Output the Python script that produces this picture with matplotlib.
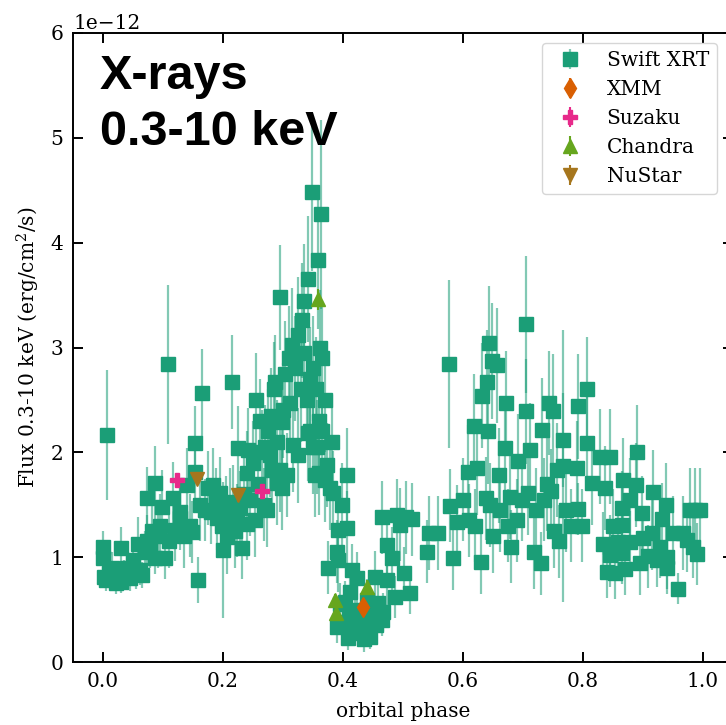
import numpy as np
import matplotlib
matplotlib.use("Agg")
import matplotlib.pyplot as plt

plt.rcParams['font.family'] = 'DejaVu Serif'
plt.rcParams['mathtext.fontset'] = 'dejavuserif'
plt.rcParams['font.size'] = 14.5

# Swift XRT (phase, flux in 1e-12 erg/cm2/s, error)
swift_phase = [
    0.000, 0.000, 0.002, 0.007, 0.005, 0.010, 0.015, 0.018, 0.022, 0.027,
    0.030, 0.030, 0.035, 0.040, 0.045, 0.050, 0.055, 0.058, 0.062, 0.065,
    0.070, 0.073, 0.073, 0.078, 0.082, 0.087, 0.087, 0.092, 0.095, 0.098,
    0.103, 0.108,
    0.110, 0.117, 0.120, 0.128, 0.128, 0.135, 0.140, 0.145, 0.148, 0.153,
    0.153, 0.158, 0.162, 0.165, 0.170, 0.175, 0.180, 0.183, 0.188, 0.190,
    0.195, 0.198,
    0.200, 0.205, 0.207, 0.212, 0.215, 0.217, 0.220, 0.223, 0.225, 0.228,
    0.232, 0.235, 0.240, 0.240, 0.242, 0.245, 0.250, 0.253, 0.255, 0.258,
    0.262, 0.265, 0.268, 0.270, 0.273, 0.275, 0.278, 0.280, 0.282, 0.285,
    0.287, 0.290, 0.290,
    0.295, 0.295, 0.298, 0.298, 0.300, 0.303, 0.307, 0.310, 0.312, 0.315,
    0.317, 0.320, 0.325, 0.325, 0.330, 0.332, 0.335, 0.335, 0.340, 0.342,
    0.342, 0.345, 0.345, 0.348, 0.350, 0.350, 0.353, 0.355, 0.357, 0.358,
    0.360, 0.360, 0.362, 0.363, 0.365, 0.365, 0.370, 0.370, 0.373, 0.375,
    0.378, 0.382, 0.383, 0.390, 0.390, 0.392, 0.392, 0.395, 0.398, 0.400,
    0.403, 0.407, 0.407, 0.408, 0.410, 0.412, 0.415, 0.415, 0.420, 0.423,
    0.425, 0.428, 0.430, 0.435, 0.440, 0.445, 0.450, 0.453, 0.455, 0.458,
    0.465, 0.465, 0.467, 0.473, 0.473, 0.482, 0.487, 0.490, 0.495,
    0.502, 0.505, 0.512, 0.515, 0.540, 0.543, 0.558, 0.577, 0.578, 0.583,
    0.590, 0.600,
    0.608, 0.610, 0.618, 0.620, 0.623, 0.630, 0.632, 0.638, 0.640, 0.642,
    0.643, 0.645, 0.648, 0.650, 0.657, 0.660, 0.662, 0.670, 0.672, 0.675,
    0.678, 0.680, 0.690, 0.692, 0.698,
    0.705, 0.705, 0.708, 0.712, 0.718, 0.722, 0.730, 0.732, 0.735, 0.740,
    0.743, 0.747, 0.750, 0.752, 0.757, 0.760, 0.767, 0.767, 0.772, 0.780,
    0.790, 0.792, 0.792, 0.798,
    0.807, 0.807, 0.815, 0.828, 0.833, 0.837, 0.840, 0.845, 0.845, 0.845,
    0.850, 0.853, 0.858, 0.865, 0.865, 0.865, 0.867, 0.870, 0.878, 0.878,
    0.888, 0.890, 0.895, 0.898, 0.900, 0.908, 0.915, 0.917, 0.923, 0.928,
    0.932, 0.938, 0.940, 0.940, 0.950, 0.958, 0.967, 0.973, 0.978, 0.983,
    0.987, 0.990, 0.995,
]
swift_flux = [
    1.10, 0.99, 0.81, 2.17, 0.78, 0.85, 0.90, 0.83, 0.75, 0.80,
    1.09, 0.76, 0.85, 0.90, 0.80, 0.97, 0.85, 1.13, 0.88, 0.83,
    1.05, 1.15, 1.56, 1.10, 1.25, 1.71, 0.99, 1.20, 1.30, 1.48,
    0.99, 2.84,
    1.15, 1.56, 1.26, 1.43, 1.37, 1.20, 1.69, 1.30, 1.24, 2.09,
    1.81, 0.78, 1.50, 2.57, 1.45, 1.66, 1.43, 1.69, 1.55, 1.37,
    1.61, 1.30,
    1.07, 1.42, 1.19, 1.50, 2.67, 1.53, 1.25, 1.35, 2.04, 1.47,
    1.09, 1.60, 1.80, 1.32, 2.02, 1.55, 1.90, 1.35, 2.50, 1.70,
    2.30, 2.00, 1.50, 2.05, 1.45, 2.20, 1.97, 2.35, 1.83, 2.60,
    2.67, 1.71, 2.10,
    3.48, 1.83, 2.29, 1.66, 2.40, 2.75, 1.78, 2.90, 2.47, 3.02,
    2.07, 2.80, 3.12, 1.97, 2.60, 3.26, 3.44, 2.95, 2.50, 3.65,
    2.18, 2.70, 2.20, 4.48, 2.80, 2.05, 1.78, 2.60, 2.05, 3.83,
    2.30, 1.80, 3.00, 4.27, 2.20, 2.90, 1.74, 2.50, 1.88, 0.90,
    1.66, 2.10, 1.61, 1.05, 0.33, 1.26, 0.97, 0.55, 1.50, 0.38,
    0.57, 1.78, 1.28, 0.23, 0.45, 0.67, 0.88, 0.30, 0.50, 0.80,
    0.38, 0.28, 0.35, 0.22, 0.59, 0.24, 0.45, 0.81, 0.35, 0.56,
    1.38, 0.40, 0.48, 0.78, 1.12, 0.99, 0.62, 1.40, 1.31,
    0.85, 1.38, 0.66, 1.36, 1.05, 1.23, 1.23, 2.84, 1.49, 0.99,
    1.34, 1.55,
    1.81, 1.35, 2.25, 1.30, 1.85, 0.95, 2.54, 1.56, 2.67, 2.20,
    3.04, 1.50, 2.87, 1.20, 2.83, 1.78, 1.45, 2.04, 2.47, 1.30,
    1.57, 1.10, 1.35, 1.92, 1.55,
    3.22, 2.39, 1.61, 2.02, 1.05, 1.45, 0.94, 2.21, 1.55, 1.70,
    2.47, 1.63, 2.39, 1.25, 1.83, 1.15, 2.12, 1.87, 1.45, 1.30,
    1.85, 2.44, 1.46, 1.30,
    2.60, 2.09, 1.71, 1.96, 1.13, 1.66, 0.86, 1.96, 1.10, 1.02,
    1.30, 0.85, 1.14, 1.47, 1.31, 1.04, 1.74, 0.89, 1.55, 1.14,
    1.69, 2.00, 0.94, 1.42, 1.18, 1.01, 1.23, 1.62, 0.97, 1.10,
    1.36, 1.50, 1.00, 0.90, 1.23, 0.70, 1.23, 1.16, 1.45, 1.10,
    1.45, 1.03, 1.45,
]
swift_err = [
    0.15, 0.12, 0.10, 0.62, 0.10, 0.12, 0.15, 0.12, 0.10, 0.12,
    0.20, 0.10, 0.12, 0.15, 0.12, 0.20, 0.15, 0.25, 0.15, 0.12,
    0.20, 0.25, 0.30, 0.20, 0.25, 0.35, 0.15, 0.30, 0.30, 0.35,
    0.20, 0.76,
    0.25, 0.35, 0.30, 0.30, 0.30, 0.30, 0.35, 0.30, 0.30, 0.35,
    0.35, 0.22, 0.35, 0.42, 0.30, 0.35, 0.30, 0.35, 0.30, 0.30,
    0.35, 0.30,
    0.65, 0.35, 0.35, 0.35, 0.45, 0.35, 0.35, 0.35, 0.40, 0.35,
    0.30, 0.35, 0.40, 0.35, 0.40, 0.35, 0.40, 0.35, 0.45, 0.35,
    0.40, 0.40, 0.35, 0.40, 0.35, 0.40, 0.40, 0.45, 0.40, 0.45,
    0.45, 0.40, 0.40,
    0.50, 0.40, 0.45, 0.40, 0.45, 0.50, 0.40, 0.50, 0.45, 0.55,
    0.45, 0.50, 0.55, 0.45, 0.50, 0.55, 0.55, 0.50, 0.45, 0.60,
    0.45, 0.50, 0.45, 0.75, 0.50, 0.45, 0.40, 0.50, 0.45, 0.65,
    0.45, 0.40, 0.55, 0.90, 0.45, 0.55, 0.40, 0.50, 0.40, 0.25,
    0.40, 0.45, 0.40, 0.30, 0.15, 0.35, 0.30, 0.20, 0.40, 0.15,
    0.20, 0.45, 0.35, 0.12, 0.18, 0.22, 0.25, 0.12, 0.18, 0.25,
    0.15, 0.12, 0.15, 0.12, 0.20, 0.12, 0.18, 0.25, 0.15, 0.20,
    0.35, 0.15, 0.18, 0.25, 0.30, 0.30, 0.20, 0.35, 0.35,
    0.25, 0.35, 0.20, 0.35, 0.30, 0.35, 0.35, 0.80, 0.35, 0.30,
    0.35, 0.40,
    0.45, 0.35, 0.50, 0.35, 0.45, 0.30, 0.50, 0.40, 0.50, 0.50,
    0.55, 0.40, 0.55, 0.35, 0.55, 0.45, 0.40, 0.45, 0.50, 0.35,
    0.40, 0.35, 0.40, 0.45, 0.40,
    0.65, 0.50, 0.40, 0.45, 0.35, 0.40, 0.30, 0.50, 0.40, 0.45,
    0.50, 0.40, 0.55, 0.35, 0.45, 0.35, 0.45, 1.30, 0.40, 0.35,
    0.45, 0.50, 0.25, 0.35,
    0.50, 0.45, 0.40, 0.45, 0.30, 0.40, 0.25, 0.45, 0.30, 0.30,
    0.35, 0.25, 0.30, 0.35, 0.35, 0.30, 0.40, 0.25, 0.40, 0.30,
    0.40, 0.45, 0.30, 0.35, 0.30, 0.30, 0.35, 0.40, 0.25, 0.30,
    0.35, 0.40, 0.30, 0.25, 0.35, 0.15, 0.35, 0.30, 0.40, 0.30,
    0.40, 0.30, 0.40,
]

xmm_phase = [0.433]
xmm_flux = [0.52]
xmm_err = [0.06]

suzaku_phase = [0.123, 0.265]
suzaku_flux = [1.74, 1.63]
suzaku_err = [0.06, 0.06]

chandra_phase = [0.358, 0.387, 0.388, 0.440]
chandra_flux = [3.46, 0.59, 0.47, 0.72]
chandra_err = [0.10, 0.06, 0.06, 0.06]

nustar_phase = [0.157, 0.225]
nustar_flux = [1.75, 1.59]
nustar_err = [0.06, 0.06]

scale = 1e-12

fig = plt.figure(figsize=(7.26, 7.25), dpi=100)
ax = fig.add_axes([73 / 726, 63 / 725, 660 / 726, 629 / 725])

ax.axhline(0, ls='--', color='C0', alpha=0.45, lw=1.5, zorder=1)

c_swift = '#1b9e77'
ax.errorbar(swift_phase, np.array(swift_flux) * scale, yerr=np.array(swift_err) * scale,
            fmt='s', color=c_swift, ecolor=(0.106, 0.62, 0.467, 0.55), elinewidth=1.6,
            ms=9.5, label='Swift XRT', zorder=3)
ax.errorbar(xmm_phase, np.array(xmm_flux) * scale, yerr=np.array(xmm_err) * scale,
            fmt='d', color='#d95f02', ms=10, elinewidth=1.5, label='XMM', zorder=4)
ax.errorbar(suzaku_phase, np.array(suzaku_flux) * scale, yerr=np.array(suzaku_err) * scale,
            fmt='P', color='#e7298a', ms=10, elinewidth=1.5, label='Suzaku', zorder=4)
ax.errorbar(chandra_phase, np.array(chandra_flux) * scale, yerr=np.array(chandra_err) * scale,
            fmt='^', color='#66a61e', ms=10, elinewidth=1.5, label='Chandra', zorder=4)
ax.errorbar(nustar_phase, np.array(nustar_flux) * scale, yerr=np.array(nustar_err) * scale,
            fmt='v', color='#a6761d', ms=10, elinewidth=1.5, label='NuStar', zorder=4)

ax.set_xlim(-0.05, 1.05)
ax.set_ylim(0, 6e-12)
ax.set_xticks([0.0, 0.2, 0.4, 0.6, 0.8, 1.0])
ax.set_xlabel('orbital phase', labelpad=8)
ax.set_ylabel('Flux 0.3-10 keV (erg/cm$^2$/s)', labelpad=6)

for s in ax.spines.values():
    s.set_linewidth(1.4)
ax.tick_params(direction='in', top=True, right=True, length=7, width=1.4, pad=7)

ax.text(0.041, 0.966, 'X-rays\n0.3-10 keV', transform=ax.transAxes,
        family='Liberation Sans', fontweight='bold', fontsize=35,
        va='top', ha='left', linespacing=1.3)

ax.legend(loc='upper right', bbox_to_anchor=(0.976, 0.984), borderaxespad=0,
          fontsize=14.5)

fig.savefig('out.png', dpi=100)
